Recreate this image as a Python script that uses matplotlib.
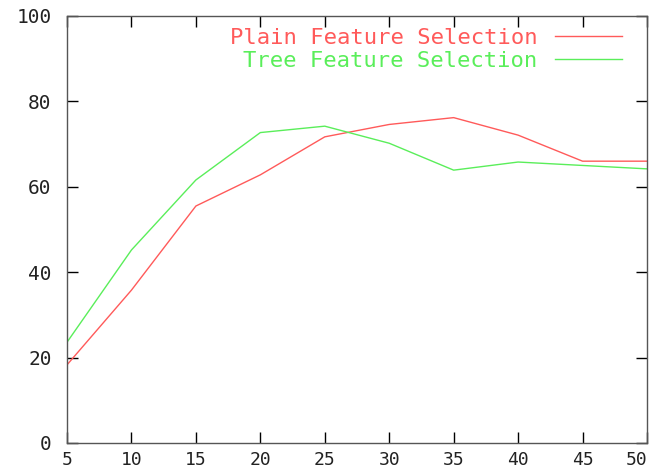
import matplotlib
matplotlib.use("Agg")
import matplotlib.pyplot as plt

# feature count on x, accuracy (%) on y
n_features = [5, 10, 15, 20, 25, 30, 35, 40, 45, 50]
plain_sel = [18.3, 35.8, 55.5, 62.8, 71.7, 74.6, 76.2, 72.1, 66.0, 66.0]
tree_sel = [23.6, 45.2, 61.6, 72.7, 74.2, 70.2, 63.9, 65.8, 65.0, 64.2]

x_ticks = [5, 10, 15, 20, 25, 30, 35, 40, 45, 50]
y_ticks = [0, 20, 40, 60, 80, 100]

red = '#ff5a5a'
green = '#5aee5a'

plt.rcParams['font.family'] = ['DejaVu Sans Mono']

fig = plt.figure(figsize=(6.6, 4.73), dpi=100)
ax = fig.add_axes([67/660, 1-443/473, 580/660, 427/473])

ax.plot(n_features, plain_sel, color=red, lw=1, label='Plain Feature Selection')
ax.plot(n_features, tree_sel, color=green, lw=1, label='Tree Feature Selection')

ax.set_xlim(5, 50)
ax.set_ylim(0, 100)
ax.set_xticks(x_ticks)
ax.set_yticks(y_ticks)
ax.tick_params(direction='in', length=8, width=1, top=True, right=True,
               labelsize=14, colors='black')
ax.tick_params(axis='y', pad=11)
ax.tick_params(axis='x', pad=6, labelsize=13)
for lbl in ax.get_xticklabels() + ax.get_yticklabels():
    lbl.set_color('#222222')
ax.get_xticklabels()[-1].set_horizontalalignment('right')
for s in ax.spines.values():
    s.set_color('#555555')
    s.set_linewidth(1)

leg = ax.legend(loc='upper right', bbox_to_anchor=(0.957, 0.972), frameon=False,
                markerfirst=False, labelcolor='linecolor', fontsize=16,
                handlelength=3.0, handletextpad=0.8, labelspacing=0.12,
                borderpad=0, borderaxespad=0)

fig.savefig('out.png', dpi=100)
